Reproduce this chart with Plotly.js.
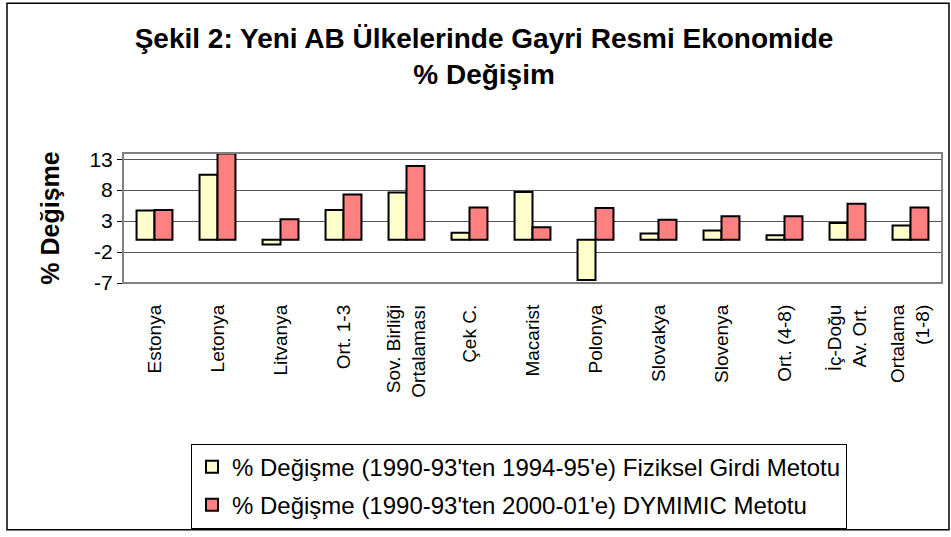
<!DOCTYPE html>
<html>
<head>
<meta charset="utf-8">
<script src="https://cdn.plot.ly/plotly-3.0.1.min.js"></script>
<style>
  html, body { margin: 0; padding: 0; background: #fff; }
  #chart { width: 951px; height: 537px; }
</style>
</head>
<body>
<div id="chart"></div>
<script>
const categories = [
  "Estonya", "Letonya", "Litvanya", "Ort. 1-3", "Sov. Birliği<br>Ortalaması",
  "Çek C.", "Macarist", "Polonya", "Slovakya", "Slovenya", "Ort. (4-8)",
  "İç-Doğu<br>Av. Ort.", "Ortalama<br>(1-8)"
];
const fizikselGirdi = [4.7, 10.5, -0.8, 4.8, 7.6, 1.1, 7.7, -6.5, 1.0, 1.5, 0.7, 2.7, 2.3];
const dymimic = [4.8, 13.9, 3.3, 7.3, 11.9, 5.2, 2.0, 5.1, 3.2, 3.8, 3.8, 5.8, 5.2];
const seriesNames = [
  "% Değişme (1990-93'ten 1994-95'e) Fiziksel Girdi Metotu",
  "% Değişme (1990-93'ten 2000-01'e) DYMIMIC Metotu"
];
const yTickVals = [-7, -2, 3, 8, 13];
const yTickText = ["-7", "-2", "3", "8", "13"];

const FONT = "Liberation Sans, Arial, sans-serif";
const yMin = -7, yMax = 14;
const plotL = 123, plotR = 942, plotT = 153, plotB = 285, W = 951, H = 537;
const pw = plotR - plotL, ph = plotB - plotT;
const px = v => (v - plotL) / pw;
const py = v => (plotB - v) / ph;

const traces = [
  { type: "bar", name: seriesNames[0], x: categories.map((_, i) => i), y: fizikselGirdi,
    marker: { color: "#FFFFCC", line: { color: "#000", width: 2 } },
    legendgroup: "a", hoverinfo: "y" },
  { type: "bar", name: seriesNames[1], x: categories.map((_, i) => i), y: dymimic,
    marker: { color: "#FF8080", line: { color: "#000", width: 2 } },
    legendgroup: "b", hoverinfo: "y" }
];

const boundaries = categories.map((_, i) => i + 0.5);

const layout = {
  width: W, height: H,
  margin: { l: plotL, r: W - plotR, t: plotT, b: H - plotB, pad: 0 },
  paper_bgcolor: "#fff", plot_bgcolor: "#fff",
  font: { family: FONT, color: "#000" },
  showlegend: true,
  barmode: "group", bargap: 0.43, bargroupgap: 0,
  title: {
    text: "<b>Şekil 2: Yeni AB Ülkelerinde Gayri Resmi Ekonomide<br>% Değişim</b>",
    font: { family: FONT, size: 28, color: "#000" },
    x: 0.509, xanchor: "center", xref: "container",
    y: 1 - 48 / H, yanchor: "middle", yref: "container"
  },
  xaxis: {
    type: "linear", range: [-0.5, categories.length - 0.5],
    tickvals: categories.map((_, i) => i), ticktext: categories,
    tickangle: -90, ticks: "", showgrid: false, zeroline: false,
    showline: false, tickfont: { family: FONT, size: 19, color: "#000" },
    ticklabelstandoff: 17,
    automargin: false
  },
  xaxis2: {
    type: "linear", overlaying: "x", anchor: "free",
    position: (0 - yMin) / (yMax - yMin),
    range: [-0.5, categories.length - 0.5],
    tickvals: boundaries, showticklabels: false,
    ticks: "outside", ticklen: 6, tickwidth: 1, tickcolor: "#000",
    showline: true, linecolor: "#000", linewidth: 1.5,
    showgrid: false, zeroline: false
  },
  yaxis: {
    range: [yMin, yMax], tickvals: yTickVals, ticktext: yTickText,
    ticks: "outside", ticklen: 5,
    tickcolor: "#000", tickwidth: 1,
    showgrid: true, gridcolor: "#555", gridwidth: 1, zeroline: false,
    showline: false,
    tickfont: { family: FONT, size: 21, color: "#000" },
    title: { text: "<b>% Değişme</b>", font: { family: FONT, size: 25, color: "#000" }, standoff: 22 },
    automargin: false
  },
  legend: {
    x: px(191), y: py(448), xanchor: "left", yanchor: "top",
    bordercolor: "#000", borderwidth: 1, bgcolor: "#fff",
    font: { family: FONT, size: 24, color: "#000" },
    traceorder: "grouped", tracegroupgap: 4,
    itemclick: false, itemdoubleclick: false
  },
  shapes: [
    { type: "rect", xref: "paper", yref: "paper", x0: 0, x1: 1, y0: 0, y1: 1,
      line: { color: "#808080", width: 2 }, layer: "above" },
    { type: "rect", xref: "paper", yref: "paper", x0: px(7), x1: px(949), y0: py(535.5), y1: py(1),
      line: { color: "#000", width: 1.5 } }
  ]
};

Plotly.newPlot("chart", traces, layout, { displayModeBar: false, staticPlot: true });
</script>
</body>
</html>
